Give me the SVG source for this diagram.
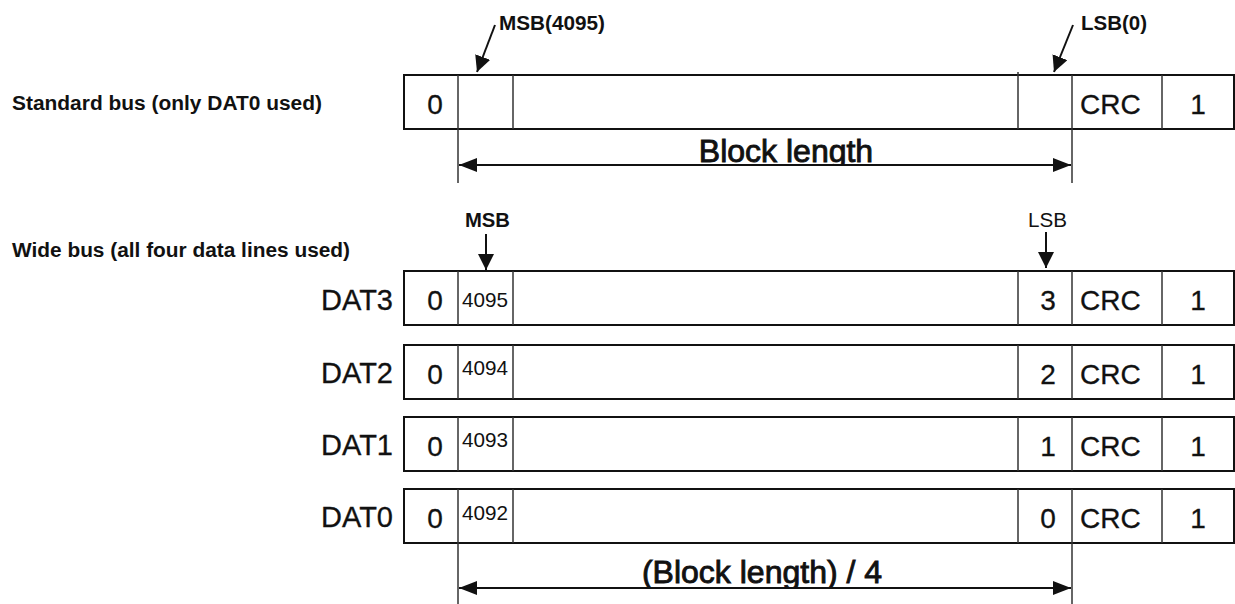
<svg xmlns="http://www.w3.org/2000/svg" width="1235" height="604" viewBox="0 0 1235 604">
<style>
.box{fill:#fff;stroke:#111;stroke-width:2}
.div{stroke:#333;stroke-width:1.5}
.big{font-family:"Liberation Sans",Arial,sans-serif;font-size:28px;fill:#111;stroke:#111;stroke-width:0.3}
.lab{font-family:"Liberation Sans",Arial,sans-serif;font-size:29px;fill:#111;stroke:#111;stroke-width:0.3}
.sm{font-family:"Liberation Sans",Arial,sans-serif;font-size:21px;fill:#111}
.hd{font-family:"Liberation Sans",Arial,sans-serif;font-size:20px;font-weight:bold;fill:#111}
.len{font-family:"Liberation Sans",Arial,sans-serif;font-size:32px;fill:#111;stroke:#111;stroke-width:0.9}
.ln{stroke:#111;stroke-width:2;fill:none}
</style>
<defs>
<marker id="ah" viewBox="0 0 18 14" refX="18" refY="7" markerWidth="18" markerHeight="14" markerUnits="userSpaceOnUse" orient="auto-start-reverse">
<path d="M0,0 L18,7 L0,14 Z" fill="#111"/>
</marker>
<marker id="ap" viewBox="0 0 16 16" refX="16" refY="8" markerWidth="16" markerHeight="16" markerUnits="userSpaceOnUse" orient="auto">
<path d="M0,0 L16,8 L0,16 Z" fill="#111"/>
</marker>
<clipPath id="c1"><rect x="600" y="120" width="400" height="44"/></clipPath>
<clipPath id="c2"><rect x="600" y="540" width="400" height="48"/></clipPath>
</defs>

<g id="labels">
<text class="hd" x="12" y="110" textLength="310" lengthAdjust="spacingAndGlyphs">Standard bus (only DAT0 used)</text>
<text class="hd" x="12" y="257" textLength="338" lengthAdjust="spacingAndGlyphs">Wide bus (all four data lines used)</text>
<text class="hd" x="499" y="30" textLength="106" lengthAdjust="spacingAndGlyphs">MSB(4095)</text>
<text class="hd" x="1081" y="30" textLength="66" lengthAdjust="spacingAndGlyphs">LSB(0)</text>
<text class="hd" x="465" y="227" textLength="45" lengthAdjust="spacingAndGlyphs">MSB</text>
<text class="hd" x="1028" y="227" textLength="39" lengthAdjust="spacingAndGlyphs" style="font-weight:normal">LSB</text>
</g>

<g id="standard">
<rect class="box" x="404" y="75" width="830" height="54"/>
<line class="div" x1="458" y1="75" x2="458" y2="129"/>
<line class="div" x1="513" y1="75" x2="513" y2="129"/>
<line class="div" x1="1018" y1="72" x2="1018" y2="129"/>
<line class="div" x1="1072" y1="75" x2="1072" y2="129"/>
<line class="div" x1="1162" y1="75" x2="1162" y2="129"/>
<text class="big" x="435" y="114" text-anchor="middle">0</text>
<text class="big" x="1080" y="114">CRC</text>
<text class="big" x="1198" y="114" text-anchor="middle">1</text>
</g>

<g id="dat3">
<text class="lab" x="393" y="310" text-anchor="end">DAT3</text>
<rect class="box" x="404" y="271" width="830" height="54"/>
<line class="div" x1="458" y1="271" x2="458" y2="325"/>
<line class="div" x1="513" y1="271" x2="513" y2="325"/>
<line class="div" x1="1018" y1="271" x2="1018" y2="325"/>
<line class="div" x1="1072" y1="271" x2="1072" y2="325"/>
<line class="div" x1="1162" y1="271" x2="1162" y2="325"/>
<text class="big" x="435" y="310" text-anchor="middle">0</text>
<text class="sm" x="462" y="307" textLength="46" lengthAdjust="spacingAndGlyphs">4095</text>
<text class="big" x="1048" y="310" text-anchor="middle">3</text>
<text class="big" x="1080" y="310">CRC</text>
<text class="big" x="1198" y="310" text-anchor="middle">1</text>
</g>

<g id="dat2">
<text class="lab" x="393" y="383" text-anchor="end">DAT2</text>
<rect class="box" x="404" y="345" width="830" height="54"/>
<line class="div" x1="458" y1="345" x2="458" y2="399"/>
<line class="div" x1="513" y1="345" x2="513" y2="399"/>
<line class="div" x1="1018" y1="345" x2="1018" y2="399"/>
<line class="div" x1="1072" y1="345" x2="1072" y2="399"/>
<line class="div" x1="1162" y1="345" x2="1162" y2="399"/>
<text class="big" x="435" y="384" text-anchor="middle">0</text>
<text class="sm" x="462" y="375" textLength="46" lengthAdjust="spacingAndGlyphs">4094</text>
<text class="big" x="1048" y="384" text-anchor="middle">2</text>
<text class="big" x="1080" y="384">CRC</text>
<text class="big" x="1198" y="384" text-anchor="middle">1</text>
</g>

<g id="dat1">
<text class="lab" x="393" y="455" text-anchor="end">DAT1</text>
<rect class="box" x="404" y="417" width="830" height="54"/>
<line class="div" x1="458" y1="417" x2="458" y2="471"/>
<line class="div" x1="513" y1="417" x2="513" y2="471"/>
<line class="div" x1="1018" y1="417" x2="1018" y2="471"/>
<line class="div" x1="1072" y1="417" x2="1072" y2="471"/>
<line class="div" x1="1162" y1="417" x2="1162" y2="471"/>
<text class="big" x="435" y="456" text-anchor="middle">0</text>
<text class="sm" x="462" y="447" textLength="46" lengthAdjust="spacingAndGlyphs">4093</text>
<text class="big" x="1048" y="456" text-anchor="middle">1</text>
<text class="big" x="1080" y="456">CRC</text>
<text class="big" x="1198" y="456" text-anchor="middle">1</text>
</g>

<g id="dat0">
<text class="lab" x="393" y="527" text-anchor="end">DAT0</text>
<rect class="box" x="404" y="489" width="830" height="54"/>
<line class="div" x1="458" y1="489" x2="458" y2="543"/>
<line class="div" x1="513" y1="489" x2="513" y2="543"/>
<line class="div" x1="1018" y1="489" x2="1018" y2="543"/>
<line class="div" x1="1072" y1="489" x2="1072" y2="543"/>
<line class="div" x1="1162" y1="489" x2="1162" y2="543"/>
<text class="big" x="435" y="528" text-anchor="middle">0</text>
<text class="sm" x="462" y="520" textLength="46" lengthAdjust="spacingAndGlyphs">4092</text>
<text class="big" x="1048" y="528" text-anchor="middle">0</text>
<text class="big" x="1080" y="528">CRC</text>
<text class="big" x="1198" y="528" text-anchor="middle">1</text>
</g>

<g id="connectors">
<line class="ln" x1="495" y1="25" x2="477" y2="72" marker-end="url(#ap)"/>
<line class="ln" x1="1073" y1="25" x2="1054" y2="72" marker-end="url(#ap)"/>
<line class="ln" x1="486" y1="234" x2="486" y2="270" marker-end="url(#ap)"/>
<line class="ln" x1="1046" y1="232" x2="1046" y2="268" marker-end="url(#ap)"/>
<line class="div" x1="458" y1="129" x2="458" y2="183"/>
<line class="div" x1="1072" y1="129" x2="1072" y2="183"/>
<line class="ln" x1="459" y1="165" x2="1071" y2="165" marker-start="url(#ah)" marker-end="url(#ah)"/>
<line class="div" x1="458" y1="543" x2="458" y2="604"/>
<line class="div" x1="1072" y1="543" x2="1072" y2="604"/>
<line class="ln" x1="459" y1="588" x2="1071" y2="588" marker-start="url(#ah)" marker-end="url(#ah)"/>
<text class="len" x="786" y="162" text-anchor="middle" clip-path="url(#c1)">Block length</text>
<text class="len" x="762" y="583" text-anchor="middle" clip-path="url(#c2)">(Block length) / 4</text>
</g>
</svg>
